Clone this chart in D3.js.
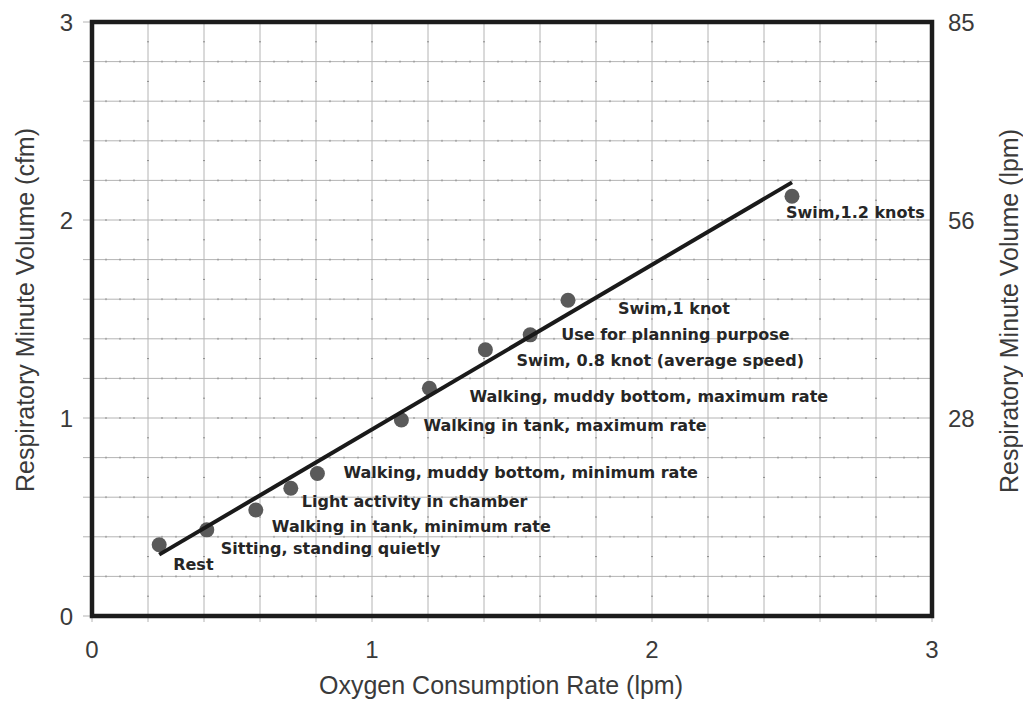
<!DOCTYPE html>
<html lang="en">
<head>
    <meta charset="UTF-8">
    <title>Respiratory Minute Volume</title>
    <script src="https://d3js.org/d3.v7.min.js"></script>
    <style>
        body {
            margin: 0;
            padding: 0;
            background: #fff;
        }
        svg text {
            font-family: "Liberation Sans", Arial, sans-serif;
        }
    </style>
</head>
<body>
    <div id="main"></div>

    <script>
        // activity points: oxygen consumption (lpm) vs respiratory minute volume (cfm)
        var activities = [
            'Rest',
            'Sitting, standing quietly',
            'Walking in tank, minimum rate',
            'Light activity in chamber',
            'Walking, muddy bottom, minimum rate',
            'Walking in tank, maximum rate',
            'Walking, muddy bottom, maximum rate',
            'Swim, 0.8 knot (average speed)',
            'Use for planning purpose',
            'Swim,1 knot',
            'Swim,1.2 knots'
        ];
        var o2Rate = [0.24, 0.41, 0.585, 0.71, 0.805, 1.105, 1.205, 1.405, 1.565, 1.70, 2.50];
        var rmvCfm = [0.36, 0.435, 0.535, 0.645, 0.72, 0.99, 1.15, 1.345, 1.42, 1.595, 2.12];

        // fitted line end points
        var fitX = [0.24, 2.5];
        var fitY = [0.31, 2.19];

        var xTicks = [0, 1, 2, 3];
        var yTicks = [0, 1, 2, 3];
        var rightTickLabels = ['28', '56', '85'];   // lpm at 1, 2, 3 cfm

        // label placement next to each point (px)
        var labelOffsets = [
            [14, 20], [14, 19], [16, 16], [11, 13], [26, -1], [22, 6],
            [40, 8], [31, 11], [31, 0], [50, 8], [-6, 16]
        ];

        var width = 1023;
        var height = 707;
        var margin = { left: 92, right: 91, top: 22, bottom: 91 };

        var svg = d3.select('#main')
            .append('svg')
            .attr('width', width)
            .attr('height', height);

        svg.append('rect').attr('width', width).attr('height', height).attr('fill', '#fff');

        var x = d3.scaleLinear().domain([0, 3]).range([margin.left, width - margin.right]);
        var y = d3.scaleLinear().domain([0, 3]).range([height - margin.bottom, margin.top]);

        var grid = svg.append('g');
        var gridVals = d3.range(0, 3.0001, 0.2);

        // vertical grid lines, with little ticks going below the axis
        grid.selectAll('.vg')
            .data(gridVals)
            .enter()
            .append('line')
            .attr('x1', d => x(d)).attr('x2', d => x(d))
            .attr('y1', y(3)).attr('y2', y(0) + 6)
            .attr('stroke', '#b4b4b4')
            .attr('stroke-width', 1);

        // horizontal grid lines, with ticks going left of the axis
        grid.selectAll('.hg')
            .data(gridVals)
            .enter()
            .append('line')
            .attr('x1', x(0) - 9).attr('x2', x(3))
            .attr('y1', d => y(d)).attr('y2', d => y(d))
            .attr('stroke', '#b4b4b4')
            .attr('stroke-width', 1);

        // tiny minor marks on the grid lines
        var minorX = d3.range(0, 3, 0.05).filter((d, i) => i % 4 != 0);
        var minorY = d3.range(0.1, 3, 0.2);
        gridVals.forEach(function(gy) {
            grid.selectAll(null)
                .data(minorX)
                .enter()
                .append('line')
                .attr('x1', d => x(d)).attr('x2', d => x(d))
                .attr('y1', y(gy) - 1).attr('y2', y(gy) + 1)
                .attr('stroke', '#8a8a8a');
        });
        gridVals.forEach(function(gx) {
            grid.selectAll(null)
                .data(minorY)
                .enter()
                .append('line')
                .attr('x1', x(gx) - 1).attr('x2', x(gx) + 1)
                .attr('y1', d => y(d)).attr('y2', d => y(d))
                .attr('stroke', '#8a8a8a');
        });

        // frame
        svg.append('rect')
            .attr('x', x(0)).attr('y', y(3))
            .attr('width', x(3) - x(0)).attr('height', y(0) - y(3))
            .attr('fill', 'none')
            .attr('stroke', '#1c1c1c')
            .attr('stroke-width', 4.5);

        // tick labels
        var labelColor = '#3a3a3a';
        svg.selectAll('.xt')
            .data(xTicks)
            .enter()
            .append('text')
            .attr('x', d => x(d))
            .attr('y', y(0) + 33)
            .attr('dominant-baseline', 'central')
            .attr('text-anchor', 'middle')
            .attr('font-size', 24)
            .attr('fill', labelColor)
            .text(d => d);

        svg.selectAll('.yt')
            .data(yTicks)
            .enter()
            .append('text')
            .attr('x', x(0) - 19)
            .attr('y', d => y(d))
            .attr('dominant-baseline', 'central')
            .attr('text-anchor', 'end')
            .attr('font-size', 24)
            .attr('fill', labelColor)
            .text(d => d);

        svg.selectAll('.rt')
            .data(rightTickLabels)
            .enter()
            .append('text')
            .attr('x', x(3) + 16)
            .attr('y', (d, i) => y(i + 1))
            .attr('dominant-baseline', 'central')
            .attr('text-anchor', 'start')
            .attr('font-size', 24)
            .attr('fill', labelColor)
            .text(d => d);

        // axis titles
        svg.append('text')
            .attr('x', (x(0) + x(3)) / 2 - 11)
            .attr('y', 685)
            .attr('dominant-baseline', 'central')
            .attr('text-anchor', 'middle')
            .attr('font-size', 25)
            .attr('fill', labelColor)
            .text('Oxygen Consumption Rate (lpm)');

        svg.append('text')
            .attr('transform', 'translate(25,310) rotate(-90)')
            .attr('dominant-baseline', 'central')
            .attr('text-anchor', 'middle')
            .attr('font-size', 25)
            .attr('fill', labelColor)
            .text('Respiratory Minute Volume (cfm)');

        svg.append('text')
            .attr('transform', 'translate(1009,311) rotate(-90)')
            .attr('dominant-baseline', 'central')
            .attr('text-anchor', 'middle')
            .attr('font-size', 25)
            .attr('fill', labelColor)
            .text('Respiratory Minute Volume (lpm)');

        // points
        var points = activities.map(function(a, i) {
            return { name: a, x: o2Rate[i], y: rmvCfm[i], off: labelOffsets[i] };
        });

        svg.selectAll('.pt')
            .data(points)
            .enter()
            .append('circle')
            .attr('cx', d => x(d.x))
            .attr('cy', d => y(d.y))
            .attr('r', 7.5)
            .attr('fill', '#5a5a5a');

        // fitted line
        var line = d3.line().x(d => x(d[0])).y(d => y(d[1]));
        svg.append('path')
            .attr('d', line(d3.zip(fitX, fitY)))
            .attr('fill', 'none')
            .attr('stroke', '#1a1a1a')
            .attr('stroke-width', 4);

        // activity labels
        svg.selectAll('.lbl')
            .data(points)
            .enter()
            .append('text')
            .attr('x', d => x(d.x) + d.off[0])
            .attr('y', d => y(d.y) + d.off[1])
            .attr('dominant-baseline', 'central')
            .style('font-family', '"DejaVu Sans", sans-serif')
            .attr('font-weight', 'bold')
            .attr('font-size', 16)
            .attr('fill', '#262626')
            .text(d => d.name);
    </script>
</body>
</html>
